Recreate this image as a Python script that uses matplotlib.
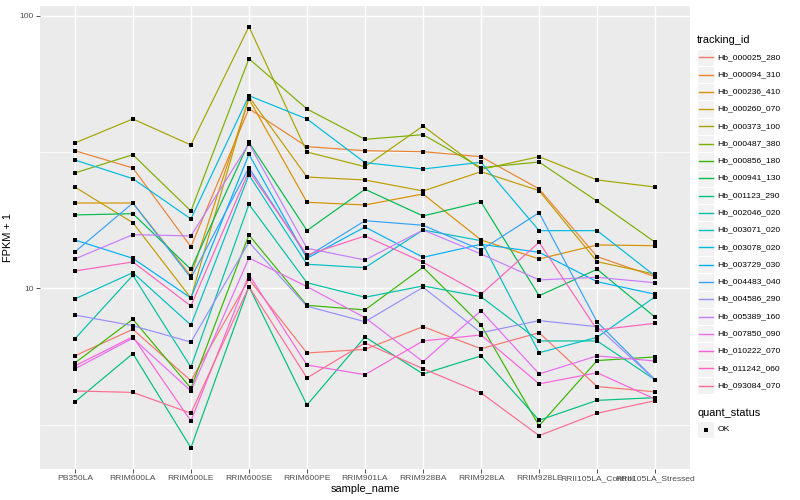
import matplotlib
matplotlib.use("Agg")
import matplotlib.pyplot as plt
from matplotlib.lines import Line2D
from matplotlib.patches import Rectangle

plt.rcParams['font.family'] = ['Liberation Sans', 'DejaVu Sans']

samples = ["PB350LA", "RRIM600LA", "RRIM600LE", "RRIM600SE", "RRIM600PE",
           "RRIM901LA", "RRIM928BA", "RRIM928LA", "RRIM928LE",
           "RRII105LA_Control", "RRII105LA_Stressed"]

tracking_ids = ["Hb_000025_280", "Hb_000094_310", "Hb_000236_410", "Hb_000260_070",
                "Hb_000373_100", "Hb_000487_380", "Hb_000856_180", "Hb_000941_130",
                "Hb_001123_290", "Hb_002046_020", "Hb_003071_020", "Hb_003078_020",
                "Hb_003729_030", "Hb_004483_040", "Hb_004586_290", "Hb_005389_160",
                "Hb_007850_090", "Hb_010222_070", "Hb_011242_060", "Hb_093084_070"]

colors = ["#F8766D", "#EA8331", "#D89000", "#C09B00", "#A3A500", "#7CAE00",
          "#39B600", "#00BB4E", "#00BF7D", "#00C1A3", "#00BFC4", "#00BAE0",
          "#00B0F6", "#35A2FF", "#9590FF", "#C77CFF", "#E76BF3", "#FA62DB",
          "#FF62BC", "#FF6C91"]

# FPKM + 1 values per sample (same order as samples)
hb_000025_280 = [5.65, 7.07, 4.58, 10.79, 5.79, 5.97, 7.23, 6.00, 6.87, 4.36, 4.17]
hb_000094_310 = [31.97, 27.63, 14.21, 45.59, 33.07, 31.97, 31.70, 30.39, 23.14, 13.06, 11.03]
hb_000236_410 = [20.55, 20.55, 11.09, 49.48, 20.68, 20.21, 22.18, 15.04, 12.81, 14.42, 14.33]
hb_000260_070 = [23.53, 17.40, 9.21, 50.45, 25.60, 24.96, 22.75, 26.78, 22.81, 12.52, 11.26]
hb_000373_100 = [34.12, 41.79, 33.55, 91.13, 31.62, 27.93, 39.39, 27.30, 30.39, 24.96, 23.53]
hb_000487_380 = [26.48, 30.91, 19.21, 69.55, 45.47, 35.20, 36.60, 27.70, 29.06, 20.85, 14.75]
hb_000856_180 = [5.32, 7.70, 4.30, 15.69, 8.66, 8.33, 11.94, 7.33, 3.13, 5.43, 5.60]
hb_000941_130 = [18.58, 18.78, 11.74, 34.32, 16.29, 23.08, 18.42, 20.73, 9.39, 11.74, 7.83]
hb_001123_290 = [3.83, 5.76, 2.60, 10.14, 3.73, 6.63, 4.85, 5.65, 3.28, 3.88, 3.97]
hb_002046_020 = [6.52, 11.16, 5.14, 20.33, 10.48, 9.27, 10.20, 9.31, 6.41, 6.41, 4.61]
hb_003071_020 = [9.14, 11.41, 7.33, 26.04, 12.25, 11.90, 16.36, 14.95, 5.80, 6.61, 9.31]
hb_003078_020 = [29.56, 25.24, 17.96, 50.88, 41.79, 28.89, 27.39, 28.99, 16.27, 16.27, 11.09]
hb_003729_030 = [15.04, 12.88, 9.21, 31.02, 12.88, 16.78, 12.99, 14.50, 13.55, 10.57, 9.51]
hb_004483_040 = [13.59, 20.55, 10.91, 27.70, 13.06, 17.70, 17.03, 13.82, 18.94, 7.52, 4.61]
hb_004586_290 = [7.98, 7.29, 6.35, 14.75, 8.59, 7.54, 10.08, 6.87, 7.61, 7.23, 4.61]
hb_005389_160 = [12.81, 15.73, 15.56, 33.92, 14.02, 12.70, 16.36, 13.36, 10.73, 10.97, 10.48]
hb_007850_090 = [5.06, 6.56, 4.20, 12.92, 10.14, 7.80, 5.38, 8.28, 4.85, 5.65, 5.41]
hb_010222_070 = [5.19, 6.64, 3.26, 11.22, 5.23, 4.82, 6.41, 6.74, 4.46, 4.90, 3.92]
hb_011242_060 = [11.57, 12.49, 8.61, 26.93, 13.25, 15.56, 12.46, 9.51, 14.75, 7.03, 7.44]
hb_093084_070 = [4.20, 4.15, 3.48, 10.14, 4.69, 6.30, 5.07, 4.13, 2.88, 3.48, 3.87]

series = [hb_000025_280, hb_000094_310, hb_000236_410, hb_000260_070, hb_000373_100,
          hb_000487_380, hb_000856_180, hb_000941_130, hb_001123_290, hb_002046_020,
          hb_003071_020, hb_003078_020, hb_003729_030, hb_004483_040, hb_004586_290,
          hb_005389_160, hb_007850_090, hb_010222_070, hb_011242_060, hb_093084_070]

W, H = 800, 500
fig = plt.figure(figsize=(W / 100, H / 100), dpi=100)
fig.patch.set_facecolor("white")

def fx(px):
    return px / W

def fy(py):
    return 1 - py / H

ax = fig.add_axes([fx(40), fy(469), fx(690) - fx(40), fy(5.5) - fy(469)])
ax.set_facecolor("#EBEBEB")
for s in ax.spines.values():
    s.set_visible(False)

xs = list(range(len(samples)))
ax.set_yscale("log")
ax.set_xlim(-0.6, len(samples) - 1 + 0.6)
ax.set_ylim(10 ** 0.337, 10 ** 2.0374)

# grid
for v in [10 ** 0.5, 10 ** 1.5]:
    ax.axhline(v, color="white", lw=0.55, zorder=0.5)
for v in [10, 100]:
    ax.axhline(v, color="white", lw=1.05, zorder=0.6)
for x in xs:
    ax.axvline(x, color="white", lw=1.05, zorder=0.6)

for vals, col in zip(series, colors):
    ax.plot(xs, vals, color=col, lw=0.85, zorder=2, solid_capstyle="butt")
for vals in series:
    ax.plot(xs, vals, linestyle="none", marker="s", ms=3.0, color="black",
            markeredgewidth=0, zorder=3)

ax.set_yticks([10, 100])
ax.set_yticklabels(["10", "100"])
ax.yaxis.set_minor_locator(matplotlib.ticker.NullLocator())
ax.set_xticks(xs)
ax.set_xticklabels(samples)
ax.tick_params(axis="both", which="major", length=2.8, width=0.6, color="#333333",
               labelsize=6.1, labelcolor="#4D4D4D", pad=1.5)
ax.set_xlabel("sample_name", fontsize=7.9, color="black", labelpad=1.5)
ax.set_ylabel("FPKM + 1", fontsize=7.9, color="black", labelpad=5)

# legend: tracking_id
fig.text(fx(697), fy(40), "tracking_id", fontsize=7.9, ha="left", va="center")
key = 17.28
y0 = 57.3
for i, (tid, col) in enumerate(zip(tracking_ids, colors)):
    yc = y0 + i * key
    fig.add_artist(Rectangle((fx(697), fy(yc + key / 2)), fx(key), key / H,
                             transform=fig.transFigure, facecolor="#F2F2F2",
                             edgecolor="white", lw=0.8, zorder=1))
    fig.add_artist(Line2D([fx(698.5), fx(697 + key - 1.5)], [fy(yc), fy(yc)],
                          transform=fig.transFigure, color=col, lw=1.0, zorder=3))
    fig.text(fx(717.5), fy(yc), tid, fontsize=6.1, ha="left", va="center")

# legend: quant_status
fig.text(fx(697), fy(412.5), "quant_status", fontsize=7.9, ha="left", va="center")
yc = 429.5
fig.add_artist(Rectangle((fx(697), fy(yc + key / 2)), fx(key), key / H,
                         transform=fig.transFigure, facecolor="#F2F2F2",
                         edgecolor="white", lw=0.8, zorder=1))
fig.add_artist(Line2D([fx(697 + key / 2)], [fy(yc)], transform=fig.transFigure,
                      marker="s", ms=3.0, color="black", markeredgewidth=0,
                      linestyle="none", zorder=3))
fig.text(fx(717.5), fy(yc), "OK", fontsize=6.1, ha="left", va="center")

fig.savefig("out.png", dpi=100)
